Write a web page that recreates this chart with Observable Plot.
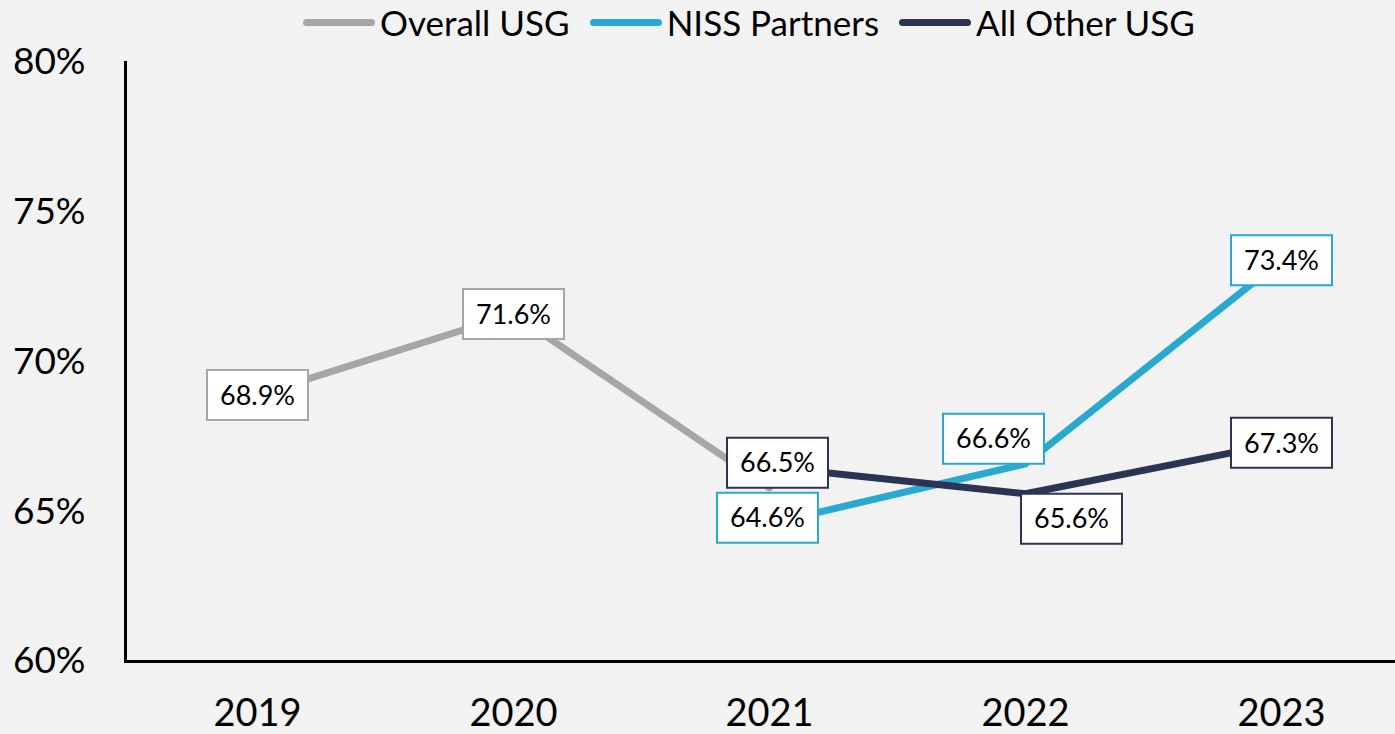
<!DOCTYPE html>
<html>
<head>
<meta charset="utf-8">
<script src="https://cdn.jsdelivr.net/npm/d3@7"></script>
<script src="https://cdn.jsdelivr.net/npm/@observablehq/plot@0.6"></script>
<style>
  html, body { margin: 0; padding: 0; background: #f2f2f2; }
  body { width: 1395px; height: 734px; overflow: hidden; font-family: Lato, 'DejaVu Sans Condensed', sans-serif; }
  #legend { height: 40px; display: flex; align-items: center; padding-left: 303px; padding-top: 4px; box-sizing: border-box; font-size: 35px; line-height: 36px; color: #000; }
  .item { display: flex; align-items: center; margin-right: 20px; }
  .sw { width: 72px; height: 7px; border-radius: 4px; margin-right: 5px; }
  #chart svg { display: block; overflow: visible; }
</style>
</head>
<body>
<div id="legend"></div>
<div id="chart"></div>
<script>
// ---- data ----
const years = [2019, 2020, 2021, 2022, 2023];
const seriesNames = ["Overall USG", "NISS Partners", "All Other USG"];
const overallYears = [2019, 2020, 2021];
const overallValues = [68.9, 71.6, 65.8];
const overallLabeledYears = [2019, 2020];
const nissYears = [2021, 2022, 2023];
const nissValues = [64.6, 66.6, 73.4];
const otherYears = [2021, 2022, 2023];
const otherValues = [66.5, 65.6, 67.3];
const yTicks = [60, 65, 70, 75, 80];

// ---- styles ----
const colors = ["#a6a6a6", "#29a9cf", "#2b3453"];
const labelOffsets = {
  "NISS Partners|2021": [-2, -6],
  "NISS Partners|2022": [-32, -25],
  "All Other USG|2021": [8, -4],
  "All Other USG|2022": [46, 25]
};

const rows = [];
overallYears.forEach((y, i) => rows.push({series: seriesNames[0], year: y, value: overallValues[i], label: overallLabeledYears.includes(y)}));
nissYears.forEach((y, i) => rows.push({series: seriesNames[1], year: y, value: nissValues[i], label: true}));
otherYears.forEach((y, i) => rows.push({series: seriesNames[2], year: y, value: otherValues[i], label: true}));

const labeled = rows.filter(d => d.label);
const groups = d3.groups(labeled, d => (labelOffsets[d.series + "|" + d.year] || [0, 0]).join(","));

const boxSymbol = {
  draw(context) {
    context.rect(-50.5, -25, 101, 50);
  }
};

const font = "Lato, 'DejaVu Sans Condensed', sans-serif";

const labelMarks = [];
for (const [key, data] of groups) {
  const [dx, dy] = key.split(",").map(Number);
  labelMarks.push(Plot.dot(data, {x: "year", y: "value", stroke: "series", fill: "white", strokeWidth: 2, symbol: boxSymbol, dx, dy}));
  labelMarks.push(Plot.text(data, {x: "year", y: "value", text: d => d.value.toFixed(1) + "%", fill: "#000", fontSize: 27, fontFamily: font, dx, dy: dy + 1}));
}

const chart = Plot.plot({
  width: 1395,
  height: 694,
  marginTop: 22,
  marginBottom: 73,
  marginLeft: 125,
  marginRight: 0,
  style: {background: "#f2f2f2", fontFamily: font, color: "#000", overflow: "visible"},
  x: {type: "point", domain: years, range: [255, 1282], padding: 0},
  y: {domain: [60, 80]},
  color: {domain: seriesNames, range: colors},
  marks: [
    Plot.frame({anchor: "left", stroke: "#000", strokeWidth: 3}),
    Plot.frame({anchor: "bottom", stroke: "#000", strokeWidth: 3}),
    Plot.axisY({ticks: yTicks, tickFormat: d => d + "%", tickSize: 0, tickPadding: 40, fontSize: 37, label: null}),
    Plot.axisX({tickSize: 0, tickPadding: 38, fontSize: 38, label: null, tickFormat: d => String(d)}),
    Plot.line(rows, {x: "year", y: "value", z: "series", stroke: "series", strokeWidth: 7}),
    ...labelMarks
  ]
});
document.getElementById("chart").appendChild(chart);

// legend
const legend = document.getElementById("legend");
seriesNames.forEach((name, i) => {
  const item = document.createElement("div");
  item.className = "item";
  const sw = document.createElement("div");
  sw.className = "sw";
  sw.style.background = colors[i];
  const t = document.createElement("span");
  t.textContent = name;
  item.appendChild(sw);
  item.appendChild(t);
  legend.appendChild(item);
});
</script>
</body>
</html>
